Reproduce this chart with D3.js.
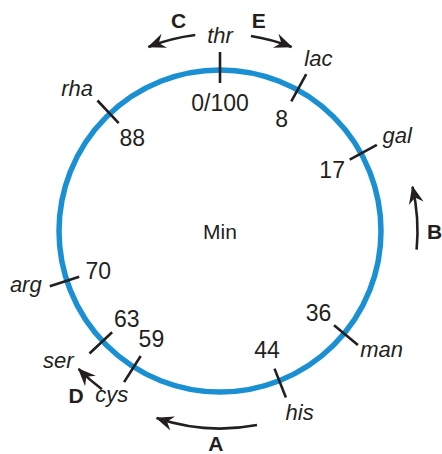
<!DOCTYPE html>
<html>
<head>
<meta charset="utf-8">
<script src="https://cdn.jsdelivr.net/npm/d3@7"></script>
<style>
  html, body { margin: 0; padding: 0; background: #ffffff; }
  svg { display: block; }
  text { fill: #231f20; font-family: "Liberation Sans Narrow", "Arial Narrow", "Liberation Sans", Arial, sans-serif; }
</style>
</head>
<body>
<svg id="chart" width="442" height="454"></svg>
<script>
// ---- data ----
const genes = ["thr", "lac", "gal", "man", "his", "cys", "ser", "arg", "rha"];
const geneMinutes = [0, 8, 17, 36, 44, 59, 63, 70, 88];
const minuteLabels = ["0/100", "8", "17", "36", "44", "59", "63", "70", "88"];
const hfrStrains = ["A", "B", "C", "D", "E"];
const hfrStart = [47, 26.5, 98, 60.2, 2.5];
const hfrEnd = [55.2, 21.4, 94.1, 62.7, 5.9];
const hfrLabelAt = [50.3, 25, 96.9, 61.6, 2.9];
const centerLabel = "Min";

// ---- layout ----
const W = 442, H = 454;
const cx = 220, cy = 231, R = 161;
// hand-placed label nudges (pixels) for gene names, as in the original figure
const geneNudgeX = [0, 2, 2, 7.5, 6, -1, -16, -4, -6];
const geneNudgeY = [12, 10, 8.3, -1.5, 3, 2, 0, -1, 11];
const hfrNudgeX = [0, 0, 0, -1, 0];
const hfrNudgeY = [-2.5, 0, 0, 4, 0];

const svg = d3.select("#chart");
const ang = d3.scaleLinear().domain([0, 100]).range([0, 2 * Math.PI]);
const pt = (m, r) => [cx + r * Math.sin(ang(m)), cy - r * Math.cos(ang(m))];

// arrowhead marker
const defs = svg.append("defs");
defs.append("marker")
  .attr("id", "head")
  .attr("markerUnits", "userSpaceOnUse")
  .attr("viewBox", "-20 -9 22 18")
  .attr("refX", 0).attr("refY", 0)
  .attr("markerWidth", 22).attr("markerHeight", 18)
  .attr("orient", "auto")
  .append("path")
  .attr("d", "M1,0 L-17,-7.5 L-11,0 L-17,7.5 Z")
  .attr("fill", "#231f20");

// circle
svg.append("circle")
  .attr("cx", cx).attr("cy", cy).attr("r", R)
  .attr("fill", "none")
  .attr("stroke", "#1a90d3")
  .attr("stroke-width", 5.5);

// ticks
const tickIn = R - 13, tickOut = R + 18;
svg.append("g").selectAll("line")
  .data(geneMinutes)
  .join("line")
  .attr("x1", d => pt(d, tickIn)[0]).attr("y1", d => pt(d, tickIn)[1])
  .attr("x2", d => pt(d, tickOut)[0]).attr("y2", d => pt(d, tickOut)[1])
  .attr("stroke", "#231f20")
  .attr("stroke-width", 2.6);

// gene labels (outside)
svg.append("g").selectAll("text")
  .data(genes)
  .join("text")
  .attr("x", (d, i) => pt(geneMinutes[i], 200)[0] + geneNudgeX[i])
  .attr("y", (d, i) => pt(geneMinutes[i], 200)[1] + geneNudgeY[i])
  .attr("text-anchor", "middle")
  .attr("font-style", "italic")
  .attr("font-size", 22)
  .text(d => d);

// minute labels (inside)
svg.append("g").selectAll("text")
  .data(minuteLabels)
  .join("text")
  .attr("x", (d, i) => pt(geneMinutes[i], 128)[0])
  .attr("y", (d, i) => pt(geneMinutes[i], 128)[1])
  .attr("dy", "0.36em")
  .attr("text-anchor", "middle")
  .attr("font-size", 23)
  .text(d => d);

// center label
svg.append("text")
  .attr("x", cx).attr("y", cy)
  .attr("dy", "0.36em")
  .attr("text-anchor", "middle")
  .attr("font-size", 21)
  .text(centerLabel);

// Hfr arrows
const rArrow = 197.5;
svg.append("g").selectAll("path")
  .data(hfrStrains)
  .join("path")
  .attr("d", (d, i) => {
    const a = pt(hfrStart[i], rArrow), b = pt(hfrEnd[i], rArrow);
    const sweep = hfrEnd[i] > hfrStart[i] ? 1 : 0;
    return `M${a[0]},${a[1]} A${rArrow},${rArrow} 0 0 ${sweep} ${b[0]},${b[1]}`;
  })
  .attr("fill", "none")
  .attr("stroke", "#231f20")
  .attr("stroke-width", 2.6)
  .attr("marker-end", "url(#head)");

svg.append("g").selectAll("text")
  .data(hfrStrains)
  .join("text")
  .attr("x", (d, i) => pt(hfrLabelAt[i], 214.5)[0] + hfrNudgeX[i])
  .attr("y", (d, i) => pt(hfrLabelAt[i], 214.5)[1] + hfrNudgeY[i])
  .attr("dy", "0.36em")
  .attr("text-anchor", "middle")
  .attr("font-weight", "bold")
  .attr("font-size", 21)
  .text(d => d);
</script>
</body>
</html>
